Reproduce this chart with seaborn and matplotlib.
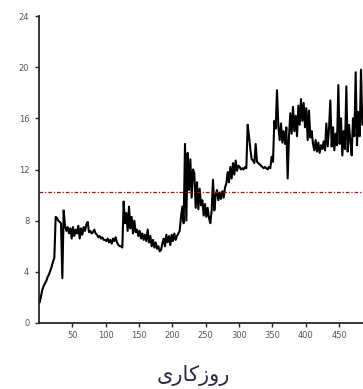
import numpy as np
import pandas as pd
import matplotlib
matplotlib.use("Agg")
import matplotlib.pyplot as plt
import seaborn as sns

# values, one every 2 working days (day 1, 3, 5, ...)
values = [
    1.6, 2.1, 2.6, 2.9, 3.1, 3.3, 3.6, 3.8, 4.1, 4.4, 4.8, 5.1,
    8.3, 8.2, 8.0, 7.9, 7.8, 3.5, 8.8,
    7.6, 7.2, 7.5, 7.0, 7.4, 6.6, 7.5, 6.8, 7.3, 7.0, 7.6, 6.6, 7.4, 6.9, 7.5, 7.2, 7.7, 7.9,
    7.1, 7.2, 7.0, 7.1, 7.3, 7.0, 6.9,
    6.7, 6.8, 6.6, 6.7, 6.5,
    6.5, 6.4, 6.6, 6.3, 6.5, 6.2, 6.6, 6.4, 6.7, 6.3,
    6.1, 6.0, 6.0, 5.9,
    9.5,
    7.8, 8.6, 7.2, 9.1, 7.4, 8.3, 7.0, 8.0, 7.1,
    7.3, 6.8, 7.2, 6.6, 7.0, 6.5, 6.9, 6.4, 7.3, 6.3, 6.8, 6.0, 6.5, 5.9, 6.3, 5.8, 6.0, 5.6,
    5.7, 6.2, 6.6, 6.0, 6.9, 6.3, 6.8, 6.1, 6.9, 6.4, 7.0, 6.5, 6.8, 7.0, 7.2,
    8.3, 9.1, 7.8, 14.0, 8.0,
    13.3, 10.4, 12.8, 9.8, 12.0,
    11.7, 9.0, 11.0, 8.9, 10.5, 9.2,
    9.6, 8.4, 9.3, 8.3, 9.0,
    8.2, 7.8, 8.8,
    11.2, 8.8, 10.0,
    10.4, 9.6, 10.2, 9.7, 10.3, 9.8, 10.6,
    10.9, 11.8, 11.0, 12.2, 11.3, 12.5, 11.6, 12.7, 11.9, 12.3,
    12.2, 12.0, 12.1, 12.0, 12.2, 12.1,
    15.5, 14.6, 13.6, 12.8,
    12.7, 12.5, 14.0, 12.6, 12.5, 12.4,
    12.3, 12.2, 12.1, 12.2, 12.1, 12.0, 12.2, 12.1, 13.0,
    12.6, 15.8, 15.2, 18.2, 15.4,
    14.3, 15.6, 14.1, 15.0, 14.0, 15.3,
    11.3, 14.6,
    16.4, 14.8, 16.9, 15.0, 16.2, 14.6,
    17.0, 15.5, 17.5, 15.8, 17.2, 15.3, 16.8,
    14.3, 16.6, 14.5, 15.0,
    14.0, 13.5, 14.3, 13.4, 14.1, 13.3, 13.9, 13.6, 14.2, 13.5,
    15.6, 13.8, 15.2, 17.4,
    13.8, 15.3, 13.5, 14.8, 13.9,
    18.6, 14.0, 16.0, 13.1, 15.0, 13.6, 18.5, 13.4, 15.5, 14.2,
    13.1, 16.0, 14.6, 19.6, 13.9, 16.5, 14.6, 19.8, 15.5,
]
days = np.arange(1, 2 * len(values), 2)
mean_level = 10.25

x_ticks = [50, 100, 150, 200, 250, 300, 350, 400, 450]
y_ticks = [0, 4, 8, 12, 16, 20, 24]

# "روزکاری" in presentation forms, visual order (no shaping in matplotlib)
x_label = "\uFBFC\uFEAD\uFE8E\uFB90\uFEAF\uFEED\uFEAD"

df = pd.DataFrame({"day": days, "value": values})

sns.set_style("ticks")
plt.rcParams["font.family"] = ["DejaVu Sans"]

fig = plt.figure(figsize=(3.63, 3.89), dpi=100)
ax = fig.add_axes([39 / 363, 1 - 323 / 389, 1 - 39 / 363, (323 - 16) / 389])

sns.lineplot(data=df, x="day", y="value", ax=ax, color="black", linewidth=1.5)
ax.axhline(mean_level, color="#8b1a1a", linestyle="-.", linewidth=0.9, dashes=(3, 1.5, 1, 1.5))

ax.set_xlim(0, 486)
ax.set_ylim(0, 24)
ax.set_xticks(x_ticks)
ax.set_yticks(y_ticks)
ax.tick_params(labelsize=6, labelcolor="#555555", length=3, width=1)
ax.tick_params(axis="y", pad=4)
ax.tick_params(axis="x", pad=3)
for s in ["top", "right"]:
    ax.spines[s].set_visible(False)
for s in ["left", "bottom"]:
    ax.spines[s].set_linewidth(1.3)
ax.set_ylabel("")
ax.set_xlabel("")
fig.text(193 / 363, 1 - 375 / 389, x_label, fontsize=15, color="#2a2a45",
         ha="center", va="center")

fig.savefig("out.png", dpi=100)
